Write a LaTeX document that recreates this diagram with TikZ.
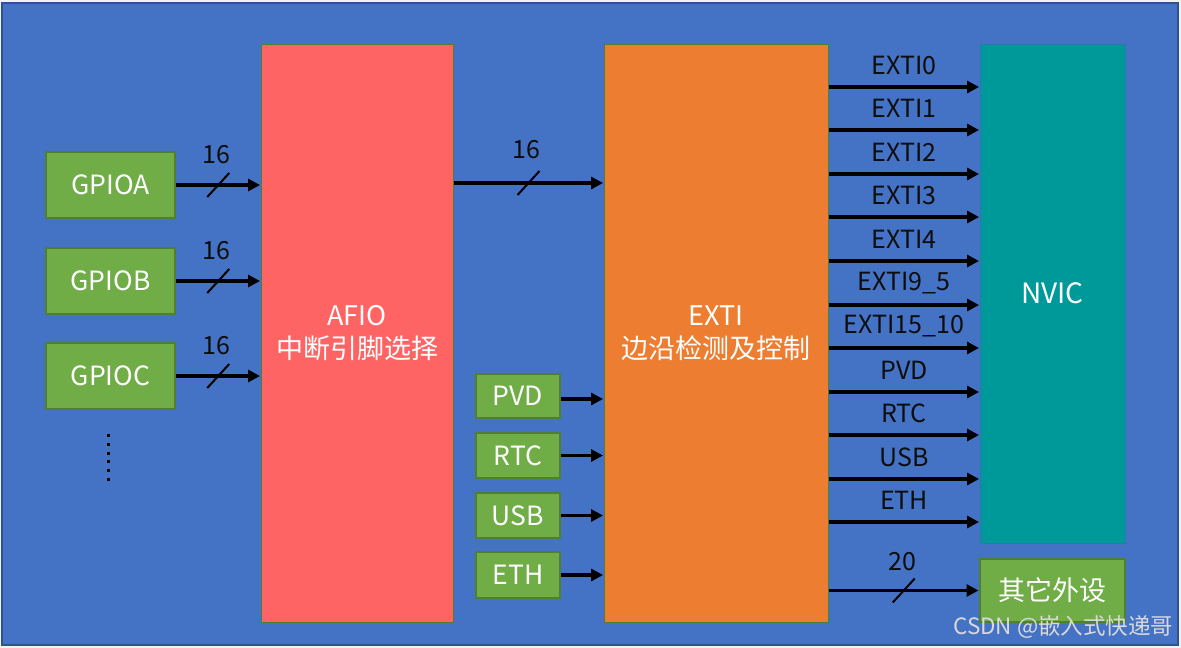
\documentclass[tikz,border=0pt]{standalone}
\usepackage{fontspec}
\setmainfont{Noto Sans CJK SC}
\usetikzlibrary{arrows.meta,calc}
\definecolor{bgblue}{HTML}{4472C4}
\definecolor{bgedge}{HTML}{2F528F}
\definecolor{gfill}{HTML}{70AD47}
\definecolor{gedge}{HTML}{507E32}
\definecolor{afiored}{HTML}{FF6464}
\definecolor{extiorg}{HTML}{ED7D31}
\definecolor{nvicteal}{HTML}{009999}
\definecolor{nvicedge}{HTML}{2E75B6}
\definecolor{txtdark}{HTML}{0D0D0D}
\definecolor{wmark}{HTML}{D9D9D9}
\tikzset{
  gbox/.style={draw=gedge, line width=2pt, fill=gfill, text=white, font=\fontsize{26.5}{30}\selectfont, inner sep=0pt},
  bigbox/.style={draw=gedge, line width=1pt, text=white, font=\fontsize{27}{33}\selectfont, align=center, inner sep=0pt},
  arr/.style={line width=3.6pt, -{Triangle[length=12pt,width=12pt]}, shorten >=0.5pt},
  lbl/.style={text=txtdark, font=\fontsize{25}{28}\selectfont},
  slash/.style={line width=2pt},
}
\begin{document}
\begin{tikzpicture}[x=1pt,y=-1pt]
\useasboundingbox (0,0) rectangle (1181,648);
\fill[white!95!black] (0,0) rectangle (1181,648);
\draw[bgedge, line width=2pt, fill=bgblue] (2,3) rectangle (1178,645);

% GPIO boxes
\node[gbox, minimum width=129pt, minimum height=66pt] (gpioa) at (110.5,185) {GPIOA};
\node[gbox, minimum width=129pt, minimum height=66pt] (gpiob) at (110.5,281) {GPIOB};
\node[gbox, minimum width=129pt, minimum height=66pt] (gpioc) at (110.5,376) {GPIOC};
\foreach \yy in {435,444,453,461,470,479} \fill[black] (106.5,\yy-1.5) rectangle (109.5,\yy+1.5);

% big boxes
\node[bigbox, fill=afiored, minimum width=192pt, minimum height=578pt] (afio) at (357,333) {AFIO\\中断引脚选择};
\node[bigbox, fill=extiorg, minimum width=224pt, minimum height=578pt] (exti) at (716,333) {EXTI\\边沿检测及控制};
\node[draw=nvicedge, line width=1pt, fill=nvicteal, text=white, font=\fontsize{28}{32}\selectfont, minimum width=145pt, minimum height=499pt, inner sep=0pt] (nvic) at (1052.5,293.5) {NVIC};
\node[gbox, font=\fontsize{27}{30}\selectfont, minimum width=145pt, minimum height=63pt] (other) at (1052.5,590.5) {其它外设};

% small source boxes
\node[gbox, minimum width=84pt, minimum height=44pt] (pvd) at (518,396) {PVD};
\node[gbox, minimum width=84pt, minimum height=45pt] (rtc) at (518,455.5) {RTC};
\node[gbox, minimum width=84pt, minimum height=45pt] (usb) at (518,515.5) {USB};
\node[gbox, minimum width=84pt, minimum height=46pt] (eth) at (518,575) {ETH};

% GPIO -> AFIO
\foreach \g in {gpioa,gpiob,gpioc}{
  \draw[arr] (\g.east) -- (afio.west |- \g.east) coordinate[pos=0.5] (m\g);
  \draw[slash] ($(m\g)+(-11,12)$) -- ($(m\g)+(11,-12)$);
  \node[lbl] at ($(m\g)+(-2,-30)$) {16};
}
% AFIO -> EXTI
\draw[arr] (afio.east |- 0,183) -- (exti.west |- 0,183) coordinate[pos=0.5] (mae);
\draw[slash] ($(mae)+(-11,12)$) -- ($(mae)+(11,-12)$);
\node[lbl] at ($(mae)+(-2,-33)$) {16};

% small boxes -> EXTI
\draw[arr] (pvd.east |- 0,399) -- (exti.west |- 0,399);
\draw[arr] (rtc.east) -- (exti.west |- rtc.east);
\draw[arr] (usb.east) -- (exti.west |- usb.east);
\draw[arr] (eth.east) -- (exti.west |- eth.east);

% EXTI -> NVIC
\foreach \yy/\t in {87/EXTI0,130/EXTI1,174/EXTI2,217/EXTI3,261/EXTI4,305/EXTI9\_5,348/EXTI15\_10,392/PVD,435/RTC,479/USB,522/ETH}{
  \draw[arr] (exti.east |- 0,\yy) -- (nvic.west |- 0,\yy) node[lbl, pos=0.5, yshift=22pt] {\t};
}
% EXTI -> other
\draw[arr] (exti.east |- other.west) -- (other.west) coordinate[pos=0.5] (mo);
\draw[slash] ($(mo)+(-11,12)$) -- ($(mo)+(11,-12)$);
\node[lbl] at ($(mo)+(-1,-29)$) {20};

% watermark
\node[text=wmark, font=\fontsize{22.5}{25}\selectfont, anchor=east] (wm) at (1177,627) {CSDN @嵌入式快递哥};
\end{tikzpicture}
\end{document}
